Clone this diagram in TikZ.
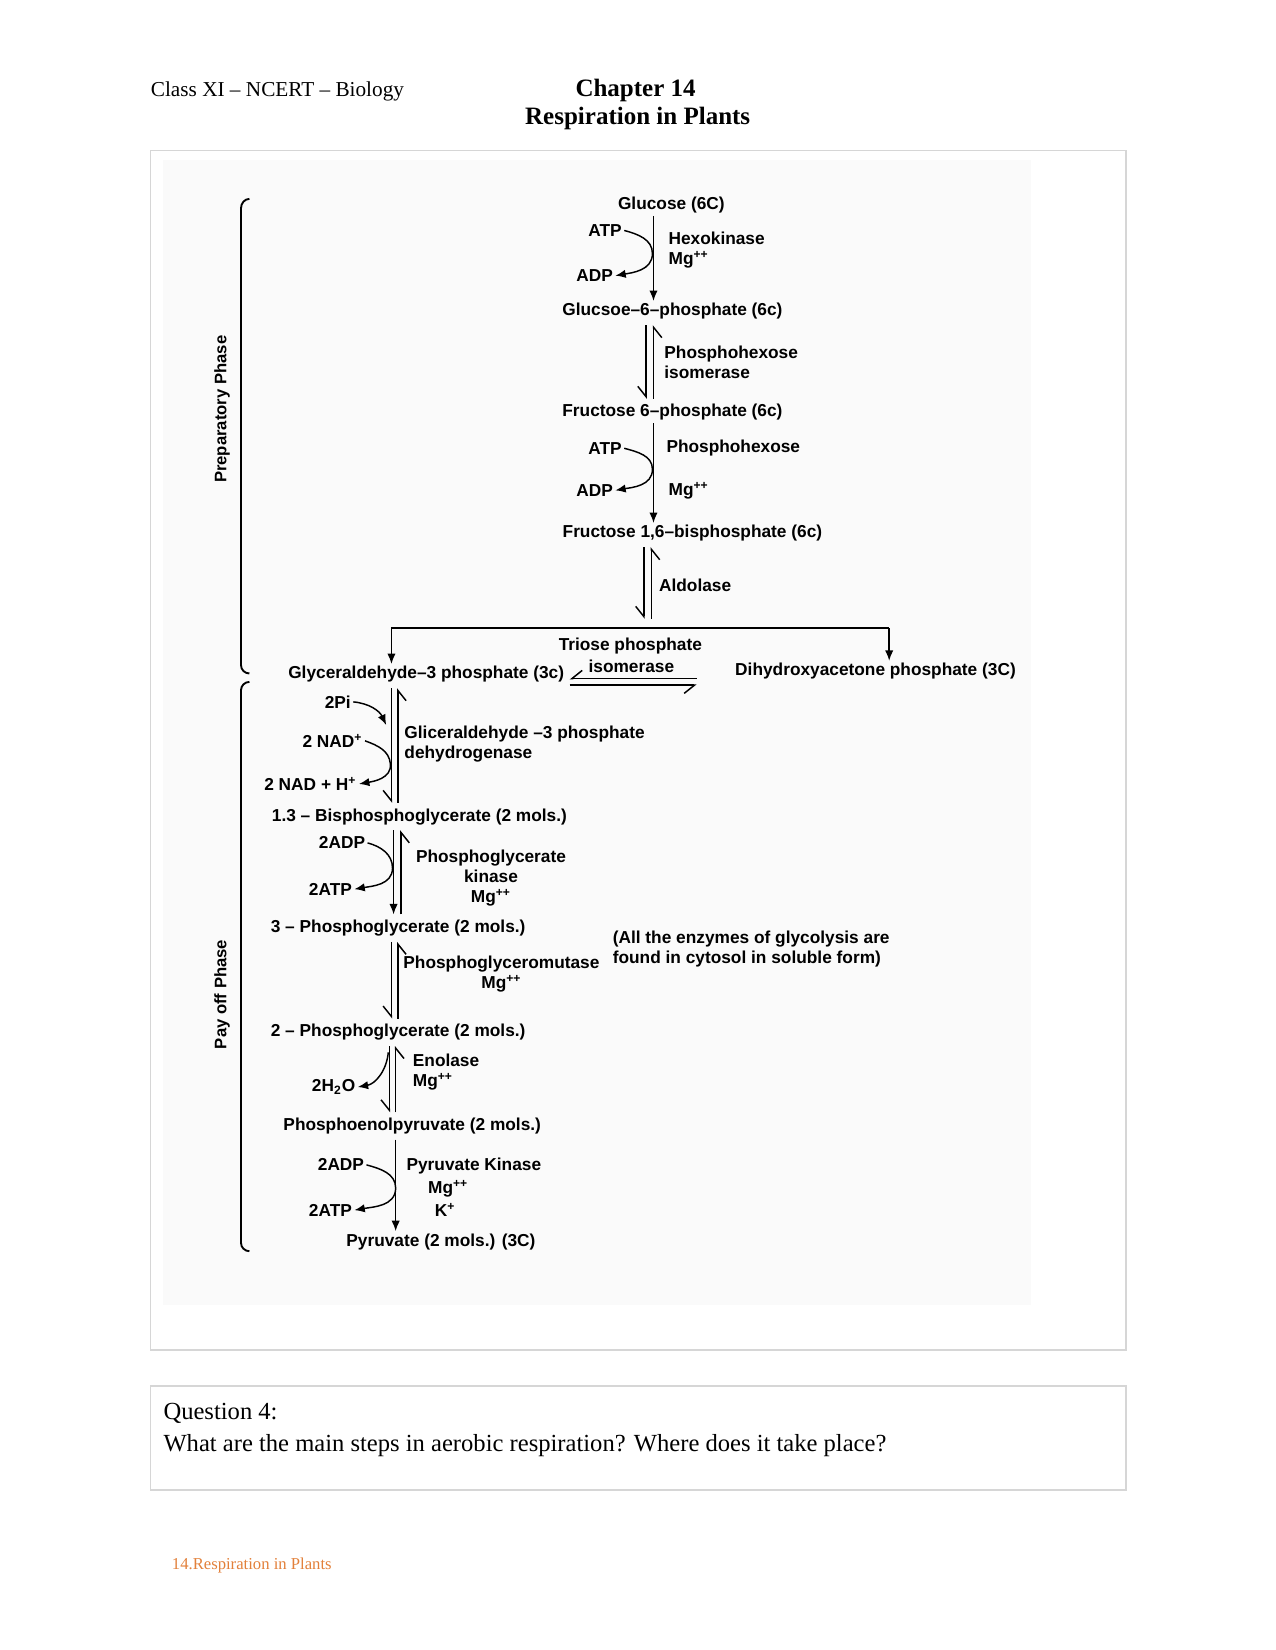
\documentclass[tikz,border=0pt]{standalone}
\usepackage{fontspec}
\setmainfont{Liberation Serif}
\newfontfamily\diagfont[Ligatures=TeX]{Liberation Sans}
\usepackage{xcolor}
\usetikzlibrary{positioning,arrows.meta,calc}
\definecolor{footorange}{RGB}{226,128,58}
\definecolor{framegray}{RGB}{214,214,214}
\tikzset{
    % Text styles
    cmpd/.style={font=\diagfont\bfseries\fontsize{8.3}{9.6}\selectfont, inner sep=1pt},
    enz/.style={cmpd, align=left, anchor=west},
    reag/.style={cmpd},
    phase/.style={inner sep=1pt, rotate=90, font=\diagfont\bfseries\fontsize{8}{9}\selectfont},
    head/.style={inner sep=0pt, font=\fontsize{10.2}{12}\selectfont},
    headb/.style={inner sep=0pt, font=\bfseries\fontsize{12}{14}\selectfont},
    quest/.style={inner sep=0pt, anchor=west, font=\fontsize{11.8}{14}\selectfont},
    % Line styles
    frame/.style={draw=framegray, line width=0.8pt},
    arr/.style={-{Latex[length=5pt,width=4pt]}, line width=0.7pt},
    hp/.style={-{Straight Barb[harpoon,swap,length=5pt,width=8pt]}, line width=0.7pt,
               shorten >=1.5pt, shorten <=1.5pt},
    brace/.style={line width=0.9pt},
}

\begin{document}
\begin{tikzpicture}[x=0.5051pt, y=-0.5051pt]
    \useasboundingbox (0,0) rectangle (1212,1568);

    % Page header
    \node[head, anchor=west] (cls) at (143,87) {Class XI -- NCERT -- Biology};
    \node[headb] (chap) at (604,86) {Chapter 14};
    \node[headb] (ttl) at (606,113) {Respiration in Plants};

    % Frames
    \draw[frame] (143,143) rectangle (1070,1283);
    \fill[black!2] (155,152) rectangle (980,1240);
    \draw[frame] (143,1317) rectangle (1070,1416);

    % Axes of the reaction arrows
    \coordinate (ax1) at (621,0);
    \coordinate (ax2a) at (614,0);
    \coordinate (ax2b) at (621,0);
    \coordinate (ax3a) at (612,0);
    \coordinate (ax3b) at (619,0);
    \coordinate (bx1a) at (372,0);
    \coordinate (bx1b) at (378,0);
    \coordinate (bx2a) at (374,0);
    \coordinate (bx2b) at (381,0);
    \coordinate (bx3a) at (370,0);
    \coordinate (bx3b) at (376,0);

    % Compounds
    \node[cmpd] (glc) at (638,195) {Glucose (6C)};
    \node[cmpd] (g6p) at (639,296) {Glucsoe--6--phosphate (6c)};
    \node[cmpd] (f6p) at (639,392) {Fructose 6--phosphate (6c)};
    \node[cmpd] (fbp) at (658,507) {Fructose 1,6--bisphosphate (6c)};
    \node[cmpd] (gap) at (405,641) {Glyceraldehyde--3 phosphate (3c)};
    \node[cmpd] (dhap) at (832,638) {Dihydroxyacetone phosphate (3C)};
    \node[cmpd, anchor=west] (bpg) at (256,776) {1.3 -- Bisphosphoglycerate (2 mols.)};
    \node[cmpd, anchor=west] (pga3) at (255,882) {3 -- Phosphoglycerate (2 mols.)};
    \node[cmpd, anchor=west] (pga2) at (255,981) {2 -- Phosphoglycerate (2 mols.)};
    \node[cmpd, anchor=west] (pep) at (267,1070) {Phosphoenolpyruvate (2 mols.)};
    \node[cmpd] (pyr) at (419,1180) {Pyruvate (2 mols.) (3C)};

    % Side reactants
    \node[reag] (atp1) at (575,219) {ATP};
    \node[reag] (adp1) at (565,262) {ADP};
    \node[reag] (atp2) at (575,426) {ATP};
    \node[reag] (adp2) at (565,466) {ADP};
    \node[reag] (pi) at (321,667) {2Pi};
    \node[reag] (nad) at (316,704) {2 NAD\textsuperscript{+}};
    \node[reag] (nadh) at (295,745) {2 NAD + H\textsuperscript{+}};
    \node[reag] (adp3) at (325,801) {2ADP};
    \node[reag] (atp3) at (314,845) {2ATP};
    \node[reag] (h2o) at (317,1033) {2H\textsubscript{2}O};
    \node[reag] (adp4) at (324,1107) {2ADP};
    \node[reag] (atp4) at (314,1150) {2ATP};

    % Enzymes
    \node[enz] (hk) at (633,238) {Hexokinase\\Mg\textsuperscript{++}};
    \node[enz] (phi) at (629,344) {Phosphohexose\\isomerase};
    \node[enz] (pfk) at (631,426) {Phosphohexose};
    \node[enz] (pfkmg) at (633,466) {Mg\textsuperscript{++}};
    \node[enz] (ald) at (624,556) {Aldolase};
    \node[cmpd] (tpi) at (599,614) {Triose phosphate};
    \node[cmpd] (tpi2) at (600,633) {isomerase};
    \node[enz] (gapdh) at (382,707) {Gliceraldehyde --3 phosphate\\dehydrogenase};
    \node[cmpd, align=center, anchor=west] (pgk) at (393,834) {Phosphoglycerate\\kinase\\Mg\textsuperscript{++}};
    \node[cmpd, align=center, anchor=west] (pgm) at (381,926) {Phosphoglyceromutase\\Mg\textsuperscript{++}};
    \node[enz] (eno) at (390,1019) {Enolase\\Mg\textsuperscript{++}};
    \node[enz] (pk) at (384,1108) {Pyruvate Kinase};
    \node[cmpd] (pkmg) at (426,1130) {Mg\textsuperscript{++}};
    \node[cmpd] (pkk) at (423,1150) {K\textsuperscript{+}};
    \node[enz] (note) at (580,902) {(All the enzymes of glycolysis are\\found in cytosol in soluble form)};

    % Preparatory phase arrows
    \coordinate (k1) at (620,241);
    \coordinate (k2) at (620,446);
    \draw[arr] (glc.south -| ax1) -- (g6p.north -| ax1);
    \draw[arr] (atp1.east) to[out=-15,in=90] (k1) to[out=-90,in=10] (adp1.east);
    \draw[hp] (g6p.south -| ax2a) -- (f6p.north -| ax2a);
    \draw[hp] (f6p.north -| ax2b) -- (g6p.south -| ax2b);
    \draw[arr] (f6p.south -| ax1) -- (fbp.north -| ax1);
    \draw[arr] (atp2.east) to[out=-15,in=90] (k2) to[out=-90,in=10] (adp2.east);
    \coordinate (spl) at (372,597);
    \coordinate (spr) at (845,597);
    \draw[hp] (fbp.south -| ax3a) -- ([yshift=3pt]spl -| ax3a);
    \draw[hp] ([yshift=3pt]spl -| ax3b) -- (fbp.south -| ax3b);
    \draw[line width=0.9pt] (spl) -- (spr);
    \draw[arr] (spl) -- (gap.north -| spl);
    \draw[arr] (spr) -- (dhap.north -| spr);

    % Triose phosphate isomerase
    \coordinate (ti1) at (665,645);
    \coordinate (ti2) at (665,651);
    \draw[hp] (ti1) -- (gap.east |- ti1);
    \draw[hp] (gap.east |- ti2) -- (ti2);

    % Pay off phase arrows
    \coordinate (k5) at (367,689);
    \coordinate (k6) at (371,726);
    \coordinate (k7) at (373,825);
    \coordinate (k8) at (369,1000);
    \coordinate (k9) at (376,1129);
    \draw[hp] (gap.south -| bx1a) -- (bpg.north -| bx1a);
    \draw[hp] (bpg.north -| bx1b) -- (gap.south -| bx1b);
    \draw[arr] (pi.east) to[out=-5,in=115] (k5);
    \draw[arr] (nad.east) to[out=-20,in=95] (k6) to[out=-85,in=10] (nadh.east);
    \draw[arr, shorten >=1.5pt, shorten <=1.5pt] (bpg.south -| bx2a) -- (pga3.north -| bx2a);
    \draw[hp] (pga3.north -| bx2b) -- (bpg.south -| bx2b);
    \draw[arr] (adp3.east) to[out=-15,in=90] (k7) to[out=-90,in=10] (atp3.east);
    \draw[hp] (pga3.south -| bx1a) -- (pga2.north -| bx1a);
    \draw[hp] (pga2.north -| bx1b) -- (pga3.south -| bx1b);
    \draw[hp] (pga2.south -| bx3a) -- (pep.north -| bx3a);
    \draw[hp] (pep.north -| bx3b) -- (pga2.south -| bx3b);
    \draw[arr] (k8) to[out=-95,in=10] (h2o.east);
    \draw[arr, shorten <=1.5pt] (pep.south -| bx3b) -- (pyr.north -| bx3b);
    \draw[arr] (adp4.east) to[out=-15,in=90] (k9) to[out=-90,in=10] (atp4.east);

    % Phase brackets
    \draw[brace] (237,189) to[out=180,in=90] (229,198) -- (229,632) to[out=-90,in=180] (237,640);
    \draw[brace] (237,648) to[out=180,in=90] (229,656) -- (229,1181) to[out=-90,in=180] (237,1189);
    \node[phase] (prep) at (211,389) {Preparatory Phase};
    \node[phase] (pay) at (211,945) {Pay off Phase};

    % Question and footer
    \node[quest] (q) at (155,1343) {Question 4:};
    \node[quest] (qtext) at (155,1374) {What are the main steps in aerobic respiration? Where does it take place?};
    \node[inner sep=0pt, anchor=west, text=footorange, font=\fontsize{8}{10}\selectfont] (foot) at (163,1488) {14.Respiration in Plants};
\end{tikzpicture}
\end{document}
